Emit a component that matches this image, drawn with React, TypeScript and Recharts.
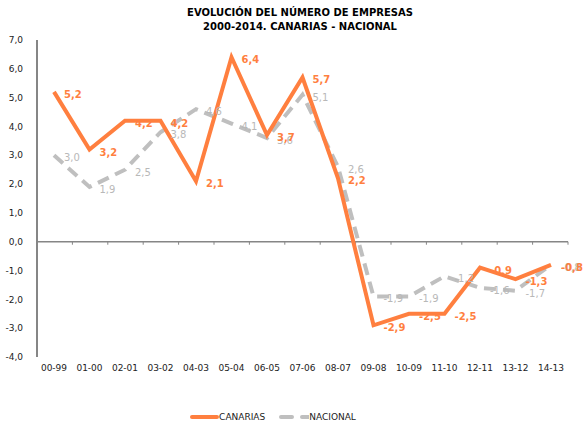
import React from 'react';
import { LineChart, Line, XAxis, YAxis, ReferenceLine, Legend, LabelList } from 'recharts';

const periods = ['00-99', '01-00', '02-01', '03-02', '04-03', '05-04', '06-05', '07-06', '08-07', '09-08', '10-09', '11-10', '12-11', '13-12', '14-13'];
const canarias = [5.2, 3.2, 4.2, 4.2, 2.1, 6.4, 3.7, 5.7, 2.2, -2.9, -2.5, -2.5, -0.9, -1.3, -0.8];
const nacional = [3.0, 1.9, 2.5, 3.8, 4.6, 4.1, 3.6, 5.1, 2.6, -1.9, -1.9, -1.2, -1.6, -1.7, -0.8];
const yTicks = [-4, -3, -2, -1, 0, 1, 2, 3, 4, 5, 6, 7];

const data = periods.map((p, i) => ({ p, canarias: canarias[i], nacional: nacional[i] }));

const ORANGE = '#FF7F3F';
const GRAY = '#BFBFBF';
const FONT = '"DejaVu Sans", Verdana, sans-serif';

const fmt = (v: number) => v.toFixed(1).replace('.', ',');

const pointLabel = (color: string, bold: boolean) => (props: any) => {
    const { x, y, value } = props;
    return (
        <text x={x + 10} y={y + 3} fill={color} fontSize={10} fontWeight={bold ? 'bold' : 'normal'} fontFamily={FONT} dominantBaseline="middle">
            {fmt(value)}
        </text>
    );
};

// zero line with small tick marks between categories
const ZeroLine = (props: any) => {
    const { x1, x2, y1 } = props;
    const n = periods.length;
    const step = (x2 - x1) / n;
    const ticks = [];
    for (let i = 1; i <= n; i++) {
        const tx = x1 + step * i;
        ticks.push(<line key={i} x1={tx} x2={tx} y1={y1} y2={y1 + 3} stroke="#868686" strokeWidth={1} />);
    }
    return (
        <g>
            <line x1={x1} x2={x2} y1={y1} y2={y1} stroke="#868686" strokeWidth={1.5} />
            {ticks}
        </g>
    );
};

const LegendContent = () => (
    <div style={{ display: 'flex', justifyContent: 'center', alignItems: 'center', fontFamily: FONT, fontSize: 9, color: '#222', paddingRight: 22, marginTop: 2 }}>
        <svg width={29} height={8}><line x1={2} x2={27} y1={4} y2={4} stroke={ORANGE} strokeWidth={4} strokeLinecap="round" /></svg>
        <span style={{ marginRight: 14 }}>CANARIAS</span>
        <svg width={30} height={8}><line x1={2} x2={30} y1={4} y2={4} stroke={GRAY} strokeWidth={4} strokeLinecap="round" strokeDasharray="11 10" /></svg>
        <span>NACIONAL</span>
    </div>
);

const App = () => {
    return (
        <div style={{ position: 'absolute', left: 0, top: 0, width: 584, height: 426, background: '#fff' }}>
            <div style={{ position: 'absolute', left: 0, top: 6, width: 600, textAlign: 'center', fontFamily: FONT, fontWeight: 'bold', fontSize: 10, lineHeight: '14px', color: '#000' }}>
                EVOLUCIÓN DEL NÚMERO DE EMPRESAS<br />2000-2014. CANARIAS - NACIONAL
            </div>
            <LineChart width={584} height={426} data={data} margin={{ top: 40, right: 16, left: 0, bottom: 4 }}>
                <XAxis dataKey="p" axisLine={false} tickLine={false} interval={0} height={53}
                    padding={{ left: 17, right: 17 }}
                    tick={{ fontSize: 9, fill: '#222', fontFamily: FONT }} tickMargin={2} />
                <YAxis domain={[-4, 7]} ticks={yTicks} width={37} tickFormatter={fmt} interval={0}
                    axisLine={{ stroke: '#868686', strokeWidth: 2 }} tickLine={false}
                    tick={{ fontSize: 9, fill: '#222', fontFamily: FONT }} tickMargin={8} />
                <ReferenceLine y={0} shape={ZeroLine} />
                <Line dataKey="nacional" stroke={GRAY} strokeWidth={4} strokeDasharray="12 7" dot={false} isAnimationActive={false}>
                    <LabelList dataKey="nacional" content={pointLabel('#B8B8B8', false)} />
                </Line>
                <Line dataKey="canarias" stroke={ORANGE} strokeWidth={4} dot={false} isAnimationActive={false}>
                    <LabelList dataKey="canarias" content={pointLabel(ORANGE, true)} />
                </Line>
                <Legend verticalAlign="bottom" content={LegendContent} />
            </LineChart>
        </div>
    );
};

export default App;
